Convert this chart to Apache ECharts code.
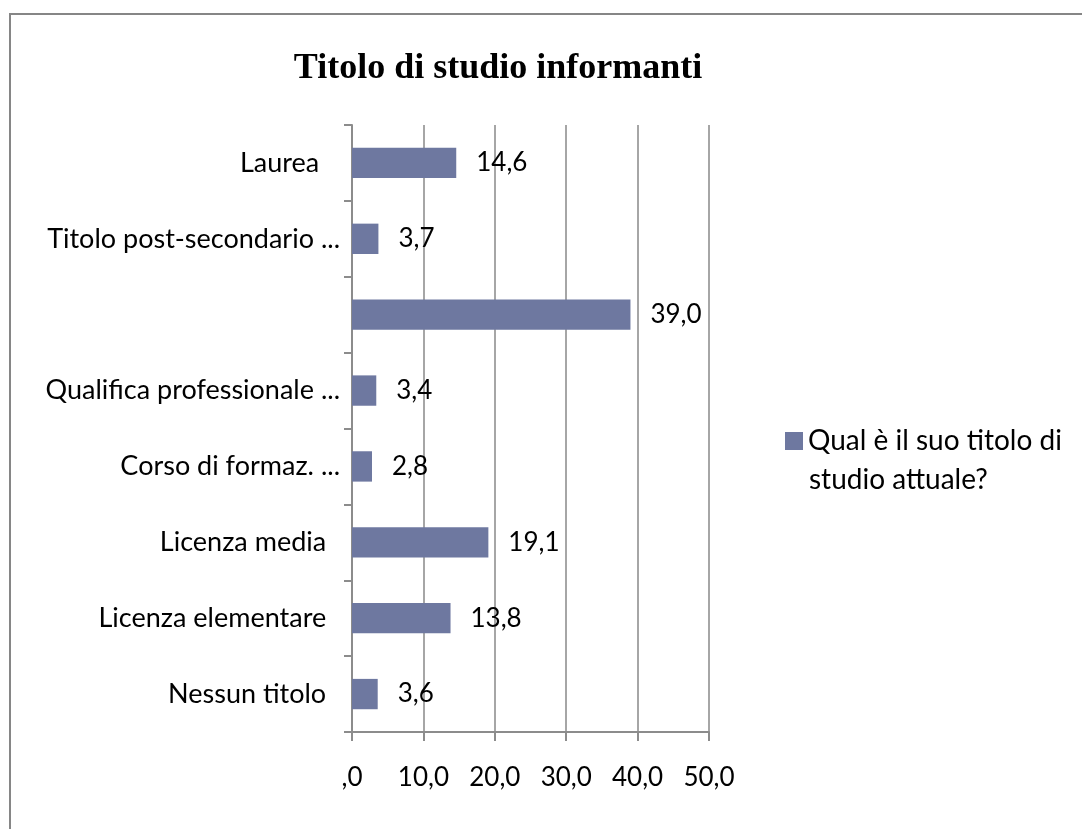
<!DOCTYPE html>
<html>
<head>
<meta charset="utf-8">
<script src="https://cdn.jsdelivr.net/npm/echarts@6/dist/echarts.min.js"></script>
<style>
  html, body { margin: 0; padding: 0; background: #fff; }
  #frame { position: absolute; left: 9px; top: 13px; width: 1090px; height: 830px; border: 2px solid #868686; box-sizing: border-box; }
  #chart { position: absolute; left: 0; top: 0; width: 1082px; height: 829px; }
</style>
</head>
<body>
<div id="frame"></div>
<div id="chart"></div>
<script>
    // categories dal basso verso l'alto
    const categories = [
        'Nessun titolo  ',
        'Licenza elementare  ',
        'Licenza media  ',
        'Corso di formaz. ...',
        'Qualifica professionale ...',
        '',
        'Titolo post-secondario ...',
        'Laurea   '
    ];
    const values = [3.6, 13.8, 19.1, 2.8, 3.4, 39.0, 3.7, 14.6];
    const xTicks = [0, 10, 20, 30, 40, 50];
    const seriesName = 'Qual è il suo titolo di studio attuale?';
    const legendLines = ['Qual è il suo titolo di', 'studio attuale?'];

    const fmt = v => v === 0 ? ',0' : v.toFixed(1).replace('.', ',');

    const chart = echarts.init(document.querySelector('#chart'));
    let option = {
        backgroundColor: 'transparent',
        animation: false,
        title: {
            text: 'Titolo di studio informanti',
            left: 493,
            textAlign: 'center',
            top: 46,
            textStyle: {
                fontFamily: 'Liberation Serif',
                fontWeight: 'bold',
                fontSize: 36,
                color: '#000'
            }
        },
        legend: {
            left: 785,
            top: 424,
            padding: 0,
            itemWidth: 18,
            itemHeight: 18,
            itemGap: 6,
            data: [{name: seriesName, icon: 'rect'}],
            formatter: () => legendLines[0],
            textStyle: {
                fontFamily: 'Lato',
                fontSize: 28,
                lineHeight: 34,
                color: '#000'
            }
        },
        graphic: [{
            type: 'text',
            left: 809,
            top: 466,
            style: {
                text: legendLines[1],
                fontFamily: 'Lato',
                fontSize: 28,
                fill: '#000'
            }
        }],
        grid: {
            left: 352,
            right: 373,
            top: 125,
            bottom: 97,
            containLabel: false
        },
        xAxis: {
            type: 'value',
            min: 0,
            max: 50,
            interval: 10,
            axisLine: {show: true, lineStyle: {color: '#8c8c8c', width: 2}},
            axisTick: {show: true, length: 9, lineStyle: {color: '#8c8c8c', width: 2}},
            splitLine: {show: true, lineStyle: {color: '#a6a6a6', width: 2}},
            axisLabel: {
                margin: 33,
                fontFamily: 'Lato',
                fontSize: 26,
                color: '#000',
                formatter: v => xTicks.includes(v) ? fmt(v) : ''
            }
        },
        yAxis: {
            type: 'category',
            data: categories,
            axisLine: {show: true, lineStyle: {color: '#8c8c8c', width: 2}},
            axisTick: {show: true, length: 8, lineStyle: {color: '#8c8c8c', width: 2}},
            axisLabel: {
                margin: 12,
                fontFamily: 'Lato',
                fontSize: 27,
                color: '#000'
            }
        },
        series: [{
            name: seriesName,
            type: 'bar',
            data: values,
            barCategoryGap: '60%',
            itemStyle: {color: '#6e78a0'},
            label: {
                show: true,
                position: 'right',
                distance: 20,
                fontFamily: 'Lato',
                fontSize: 26,
                color: '#000',
                formatter: p => fmt(p.value)
            }
        }]
    };

    option && chart.setOption(option);
</script>
</body>
</html>
